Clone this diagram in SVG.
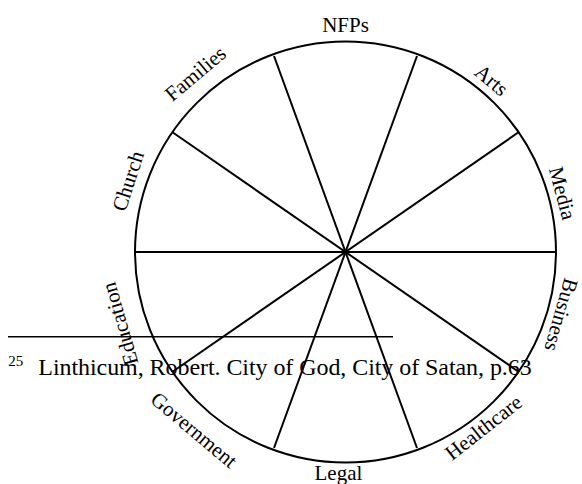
<svg xmlns="http://www.w3.org/2000/svg" width="582" height="484" viewBox="0 0 582 484">
<style>
.lbl{font-family:"Liberation Serif","Times New Roman",serif;font-size:21px;fill:#000;text-anchor:middle}
.ln{stroke:#000;stroke-width:2;fill:none}
.fn{font-family:"Liberation Serif","Times New Roman",serif;fill:#000}
</style>
<rect width="582" height="484" fill="#fff"/>
<g id="wheel">
<circle class="ln" cx="345.5" cy="252" r="210.5"/>
</g>
<g id="connectors">
<line class="ln" x1="135" y1="252" x2="556" y2="252"/>
<line class="ln" x1="274" y1="56" x2="417" y2="448"/>
<line class="ln" x1="417" y1="56" x2="274" y2="448"/>
<line class="ln" x1="172.5" y1="132.3" x2="518.5" y2="371.7"/>
<line class="ln" x1="518.5" y1="132.3" x2="172.5" y2="371.7"/>
</g>
<g id="nfps"><text class="lbl" x="345.5" y="31.7">NFPs</text></g>
<g id="arts"><text class="lbl" transform="translate(487,85.7) rotate(40)">Arts</text></g>
<g id="media"><text class="lbl" transform="translate(555.7,195) rotate(75)">Media</text></g>
<g id="business"><text class="lbl" transform="translate(554.5,313) rotate(106)">Business</text></g>
<g id="healthcare"><text class="lbl" transform="translate(487.8,433) rotate(-38)">Healthcare</text></g>
<g id="legal"><text class="lbl" x="338.4" y="479.5">Legal</text></g>
<g id="government"><text class="lbl" transform="translate(189.5,435.3) rotate(40)">Government</text></g>
<g id="education"><text class="lbl" transform="translate(126.7,322) rotate(-106)">Education</text></g>
<g id="church"><text class="lbl" transform="translate(134.7,183.2) rotate(-72)">Church</text></g>
<g id="families"><text class="lbl" transform="translate(199.9,79) rotate(-40)">Families</text></g>
<g id="footnote">
<line x1="8" y1="336.7" x2="393" y2="336.7" stroke="#000" stroke-width="1.5"/>
<text class="fn" x="8.3" y="365.7" font-size="15">25</text>
<text class="fn" x="38.3" y="374.5" font-size="24" textLength="493.4" lengthAdjust="spacing">Linthicum, Robert. City of God, City of Satan, p.63</text>
</g>
</svg>
